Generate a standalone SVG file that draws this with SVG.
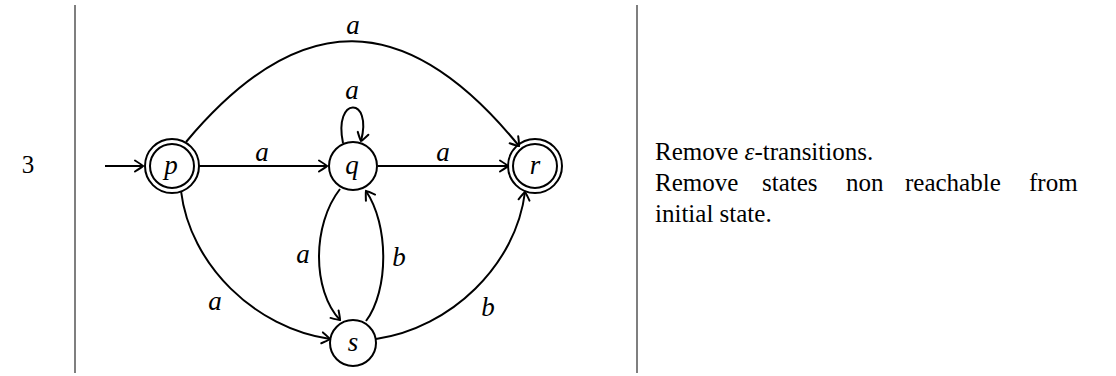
<svg xmlns="http://www.w3.org/2000/svg" width="1116" height="376" viewBox="0 0 1116 376">
<style>
.st{fill:none;stroke:#000;stroke-width:2}
.ed{fill:none;stroke:#000;stroke-width:2}
.rule{stroke:#555;stroke-width:1.5}
.lb{font-family:"Liberation Serif",serif;font-style:italic;font-size:27px;fill:#000}
.tx{font-family:"Liberation Serif",serif;font-size:25px;fill:#000}
</style>
<defs>
<marker id="ar" markerUnits="userSpaceOnUse" markerWidth="18" markerHeight="18" viewBox="-12 -9 14 18" refX="0" refY="0" orient="auto">
<path d="M-8,-5.5 Q-1.5,-1.5 0,0 Q-1.5,1.5 -8,5.5" fill="none" stroke="#000" stroke-width="2" stroke-linecap="round"/>
</marker>
</defs>
<line class="rule" x1="75" y1="5" x2="75" y2="373"/>
<line class="rule" x1="637" y1="5" x2="637" y2="373"/>
<text class="tx" x="28" y="173" text-anchor="middle">3</text>
<g id="connectors">
<path class="ed" d="M105,166 L143,166" marker-end="url(#ar)"/>
<path class="ed" d="M199,166 L327,166" marker-end="url(#ar)"/>
<path class="ed" d="M378,166 L508,166" marker-end="url(#ar)"/>
<path class="ed" d="M186,142 C299,7 406,7 519,146" marker-end="url(#ar)"/>
<path class="ed" d="M343,143 C333,96 373,96 361,141" marker-end="url(#ar)"/>
<path class="ed" d="M340,189 C312,225 312,290 340,320" marker-end="url(#ar)"/>
<path class="ed" d="M366,321 C389,290 389,225 366,191" marker-end="url(#ar)"/>
<path class="ed" d="M181,191 C190,265 255,328 330,339" marker-end="url(#ar)"/>
<path class="ed" d="M376,339 C451,328 516,265 525,192" marker-end="url(#ar)"/>
<text class="lb" x="353" y="34" text-anchor="middle">a</text>
<text class="lb" x="352" y="99" text-anchor="middle">a</text>
<text class="lb" x="262" y="161" text-anchor="middle">a</text>
<text class="lb" x="443" y="161" text-anchor="middle">a</text>
<text class="lb" x="303" y="263" text-anchor="middle">a</text>
<text class="lb" x="399" y="266" text-anchor="middle">b</text>
<text class="lb" x="215" y="310" text-anchor="middle">a</text>
<text class="lb" x="488" y="316" text-anchor="middle">b</text>
</g>
<g id="node-p">
<circle class="st" cx="172" cy="166" r="27"/>
<circle class="st" cx="172" cy="166" r="22"/>
<text class="lb" x="171" y="174" text-anchor="middle">p</text>
</g>
<g id="node-q">
<circle class="st" cx="353" cy="166" r="24"/>
<text class="lb" x="352" y="174" text-anchor="middle">q</text>
</g>
<g id="node-r">
<circle class="st" cx="535" cy="166" r="27"/>
<circle class="st" cx="535" cy="166" r="22"/>
<text class="lb" x="535" y="174" text-anchor="middle">r</text>
</g>
<g id="node-s">
<circle class="st" cx="353" cy="343" r="23"/>
<text class="lb" x="353" y="351" text-anchor="middle">s</text>
</g>
<g id="text">
<text class="tx" x="655" y="160">Remove <tspan font-style="italic">ε</tspan>-transitions.</text>
<text class="tx" y="191"><tspan x="655">Remove</tspan><tspan x="762">states</tspan><tspan x="846">non</tspan><tspan x="905">reachable</tspan><tspan x="1029">from</tspan></text>
<text class="tx" x="655" y="222">initial state.</text>
</g>
</svg>
